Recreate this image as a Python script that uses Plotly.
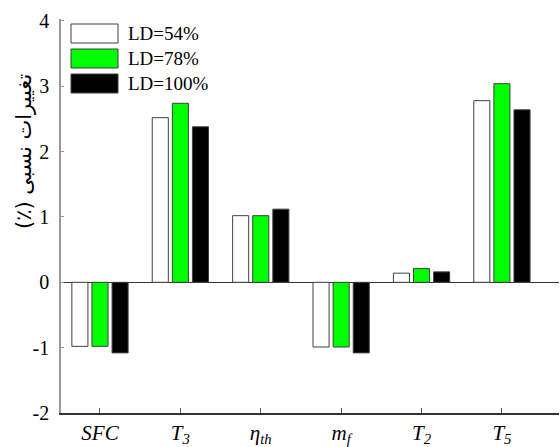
import plotly.graph_objects as go

categories = ["SFC", "T3", "eta_th", "m_f", "T2", "T5"]
tick_labels = ["<i>SFC</i>", "<i>T</i><sub><i>3</i></sub>", "<i>η</i><sub><i>th</i></sub>",
               "<i>m</i><sub><i>f</i></sub>", "<i>T</i><sub><i>2</i></sub>", "<i>T</i><sub><i>5</i></sub>"]
series_names = ["LD=54%", "LD=78%", "LD=100%"]
ld54 = [-0.98, 2.52, 1.02, -0.99, 0.14, 2.78]
ld78 = [-0.98, 2.74, 1.02, -0.99, 0.21, 3.04]
ld100 = [-1.08, 2.38, 1.12, -1.08, 0.16, 2.64]
series_values = [ld54, ld78, ld100]
fill_colors = ["#ffffff", "#00ff00", "#000000"]
y_ticks = [-2, -1, 0, 1, 2, 3, 4]
y_ticktext = ["-2", "-1", "0", "1", "2", "3", "4"]
y_title = "\u202Bتغییرات نسبی (٪)\u202C"

FONT = "Liberation Serif"

fig = go.Figure()
for name, vals, col in zip(series_names, series_values, fill_colors):
    fig.add_trace(go.Bar(
        x=categories, y=vals, name=name,
        marker=dict(color=col, line=dict(color="#404040", width=1)),
        showlegend=False,
    ))

W, H = 560, 447
L, R, T, B = 61, 1, 19, 34
pw, ph = W - L - R, H - T - B

def px2paper(x, y):
    return (x - L) / pw, (H - B - y) / ph

# custom legend with large swatches
legend_rows = [(24, 43), (49, 68), (74, 93)]
for (y0, y1), name, col in zip(legend_rows, series_names, fill_colors):
    ax0, ay0 = px2paper(71, y1)
    ax1, ay1 = px2paper(118, y0)
    fig.add_shape(type="rect", xref="paper", yref="paper",
                  x0=ax0, x1=ax1, y0=ay0, y1=ay1,
                  fillcolor=col, line=dict(color="#404040", width=1))
    tx, ty = px2paper(126, (y0 + y1) / 2)
    fig.add_annotation(xref="paper", yref="paper", x=tx, y=ty, text=name,
                       showarrow=False, xanchor="left", yanchor="middle",
                       font=dict(family=FONT, size=19, color="#000"))

lx, ly = px2paper(24, 152)
fig.add_annotation(xref="paper", yref="paper", x=lx, y=ly, text=y_title,
                   textangle=-90, showarrow=False, xanchor="center", yanchor="middle",
                   font=dict(family="DejaVu Sans", size=21, color="#000"))

fig.update_layout(
    width=W, height=H,
    margin=dict(l=L, r=R, t=T, b=B, pad=0),
    paper_bgcolor="white", plot_bgcolor="white",
    barmode="group", bargap=0.25, bargroupgap=0.2,
    font=dict(family=FONT, size=19, color="#000"),
    xaxis=dict(
        range=[-0.485, 5.71], tickmode="array", tickvals=categories, ticktext=tick_labels,
        showline=True, linecolor="#333", linewidth=1.5,
        ticks="inside", ticklen=5, tickcolor="#555", tickwidth=1,
        showgrid=False, zeroline=False, tickfont=dict(family=FONT, size=21),
    ),
    yaxis=dict(
        range=[-2, 4.03], tickmode="array", tickvals=y_ticks, ticktext=y_ticktext,
        showline=True, linecolor="#999", linewidth=1.5,
        ticks="inside", ticklen=3, tickcolor="#999",
        showgrid=False, zeroline=True, zerolinecolor="#333", zerolinewidth=1,
        tickfont=dict(family=FONT, size=20), ticklabelstandoff=6,
    ),
)

fig.write_html("out.html")
